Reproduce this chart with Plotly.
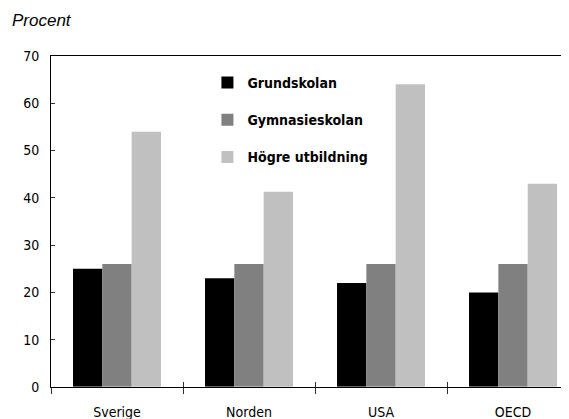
import plotly.graph_objects as go

categories = ["Sverige", "Norden", "USA", "OECD"]
grundskolan = [25, 23, 22, 20]
gymnasieskolan = [26, 26, 26, 26]
hogre = [54, 41.3, 64, 43]
series_names = ["Grundskolan", "Gymnasieskolan", "Högre utbildning"]
colors = ["#000000", "#808080", "#c0c0c0"]
y_ticks = [0, 10, 20, 30, 40, 50, 60, 70]

COND = "DejaVu Sans Condensed, Liberation Sans Narrow, sans-serif"

fig = go.Figure()
for name, vals, col in zip(series_names, [grundskolan, gymnasieskolan, hogre], colors):
    fig.add_trace(go.Bar(x=categories, y=vals, name=name, marker=dict(color=col, line=dict(width=0)),
                         legendgroup=name))

# invisible trace on overlay axis for inside ticks
fig.add_trace(go.Bar(x=categories, y=[0, 0, 0, 0], xaxis="x2", showlegend=False,
                     marker=dict(color="rgba(0,0,0,0)"), hoverinfo="skip"))

PW = 518
PH = 331
fig.update_layout(
    width=561, height=411,
    margin=dict(l=43, r=0, t=48, b=32, autoexpand=False),
    plot_bgcolor="white", paper_bgcolor="white",
    barmode="group", bargap=1/3, bargroupgap=0,
    showlegend=True,
    legend=dict(x=0.302, y=0.967, xanchor="left", yanchor="top",
                font=dict(family=COND, size=14, color="black", weight="bold"),
                bgcolor="rgba(0,0,0,0)", tracegroupgap=16),
    xaxis=dict(type="category", range=[-0.5, 3.424], showline=True, linecolor="black", linewidth=1,
               mirror=True, ticks="outside", ticklen=6, tickcolor="#333", tickwidth=1,
               tickson="boundaries", showgrid=False, zeroline=False, automargin=False,
               tickfont=dict(family=COND, size=14, color="black"), ticklabelstandoff=12),
    xaxis2=dict(type="category", overlaying="x", matches="x", showline=False,
                ticks="inside", ticklen=5, tickcolor="#333", tickwidth=1, tickson="boundaries",
                showticklabels=False, showgrid=False, zeroline=False, automargin=False),
    yaxis=dict(range=[0, 70], tickvals=y_ticks, showline=True, linecolor="black", linewidth=1,
               ticks="inside", ticklen=4, tickcolor="#333", showgrid=False, zeroline=False,
               automargin=False,
               tickfont=dict(family=COND, size=14, color="black"), ticklabelstandoff=8),
    annotations=[dict(text="<i>Procent</i>", xref="paper", yref="paper",
                      x=-41 / PW, y=1 + 36 / PH,
                      xanchor="left", yanchor="middle", showarrow=False,
                      font=dict(family="Liberation Sans, Arial", size=17, color="black"))],
)

fig.write_html("out.html")
